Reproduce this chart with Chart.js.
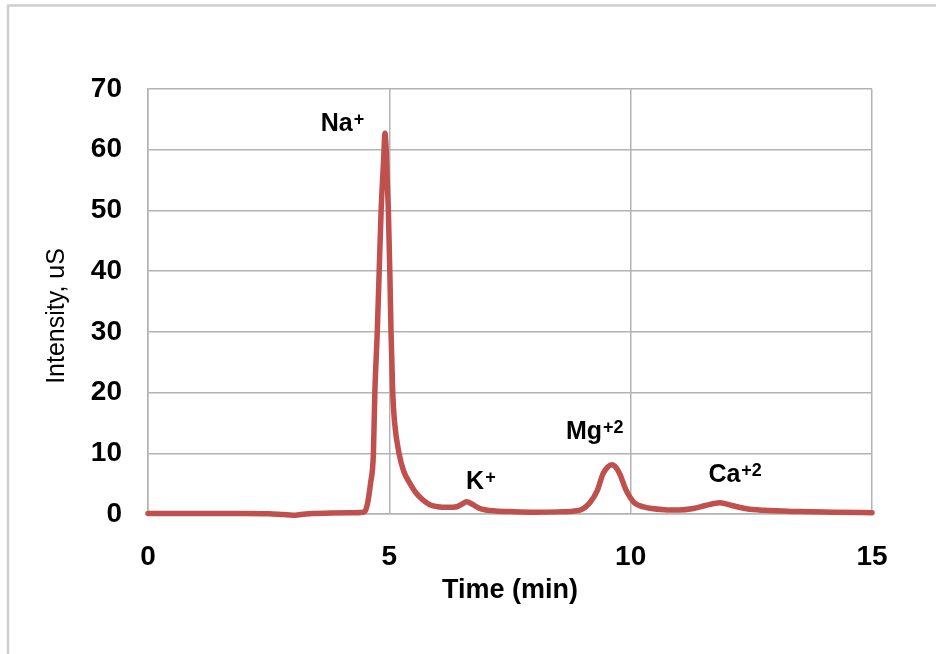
<!DOCTYPE html>
<html>
<head>
<meta charset="utf-8">
<script src="https://cdn.jsdelivr.net/npm/chart.js@4.4.1/dist/chart.umd.min.js"></script>
<style>
  html, body { margin: 0; padding: 0; background: #fff; }
</style>
</head>
<body>
<canvas id="graphicIons" width="936" height="654"></canvas>
<script>
const timeMin = [
  0.0, 0.5, 1.0, 1.5, 2.0, 2.5, 2.8, 3.0, 3.2, 3.4, 3.8, 4.2, 4.45, 4.5,
  4.55, 4.61, 4.67, 4.70, 4.75, 4.79, 4.83, 4.88, 4.91, 4.935, 4.98, 5.01,
  5.035, 5.07, 5.11, 5.2, 5.3, 5.43, 5.55, 5.7, 5.85, 6.0, 6.2, 6.4, 6.5,
  6.6, 6.72, 6.85, 7.0, 7.2, 7.5, 8.0, 8.5, 8.8, 9.0, 9.15, 9.31, 9.43,
  9.53, 9.61, 9.7, 9.78, 9.9, 10.0, 10.09, 10.25, 10.4, 10.7, 11.0, 11.3,
  11.55, 11.85, 12.1, 12.4, 12.75, 13.5, 14.2, 15.0
];
const intensityUs = [
  0.1, 0.1, 0.1, 0.1, 0.1, 0.05, -0.1, -0.2, -0.05, 0.1, 0.15, 0.2, 0.3, 0.5,
  1.8, 5.0, 10.0, 20.0, 30.0, 40.0, 50.0, 58.0, 62.7, 60.0, 50.0, 40.0,
  30.0, 20.0, 15.0, 10.0, 7.0, 5.0, 3.5, 2.3, 1.5, 1.2, 1.1, 1.2, 1.6,
  2.0, 1.6, 1.0, 0.66, 0.5, 0.4, 0.3, 0.35, 0.45, 0.8, 1.8, 3.9, 6.7,
  7.8, 8.1, 7.6, 6.5, 4.0, 2.6, 1.75, 1.2, 0.95, 0.7, 0.65, 0.9,
  1.4, 1.85, 1.4, 0.85, 0.6, 0.4, 0.3, 0.2
];
const xTicks = [0, 5, 10, 15];
const yTicks = [0, 10, 20, 30, 40, 50, 60, 70];

// etiquetas de los picos
const ionNames = ["Na", "K", "Mg", "Ca"];
const ionCharges = ["+", "+", "+2", "+2"];
const ionLabelX = [3.58, 6.59, 8.66, 11.61];
const ionLabelY = [63.1, 4.2, 12.3, 5.2];

const FONT = "'Liberation Sans', Arial, sans-serif";
const GRID = "#b3b3b3";

const chartFrame = {
  id: "chartFrame",
  beforeDraw(chart) {
    const { ctx, width, height } = chart;
    ctx.save();
    ctx.fillStyle = "#fff";
    ctx.fillRect(0, 0, width, height);
    ctx.strokeStyle = "#cfcfcf";
    ctx.lineWidth = 2.5;
    ctx.beginPath();
    ctx.moveTo(8, height);
    ctx.lineTo(8, 5.5);
    ctx.lineTo(width, 5.5);
    ctx.stroke();
    ctx.restore();
  },
};

// titulo del eje Y y etiquetas de los iones
const ionLabels = {
  id: "ionLabels",
  afterDatasetsDraw(chart) {
    const { ctx } = chart;
    const { x, y } = chart.scales;
    ctx.save();
    ctx.fillStyle = "#000";
    ctx.textBaseline = "alphabetic";
    ctx.textAlign = "left";
    ionNames.forEach((name, i) => {
      const px = x.getPixelForValue(ionLabelX[i]);
      const py = y.getPixelForValue(ionLabelY[i]);
      ctx.font = "bold 25px " + FONT;
      ctx.fillText(name, px, py);
      const w = ctx.measureText(name).width;
      ctx.font = "bold 18px " + FONT;
      ctx.fillText(ionCharges[i], px + w + 1, py - 6);
    });
    ctx.restore();

    ctx.save();
    ctx.translate(57, 316);
    ctx.rotate(-Math.PI / 2);
    ctx.font = "25px " + FONT;
    ctx.fillStyle = "#000";
    ctx.textAlign = "center";
    ctx.textBaseline = "middle";
    ctx.fillText("Intensity, uS", 0, 0);
    ctx.restore();
  },
};

const points = timeMin.map((t, i) => ({ x: t, y: intensityUs[i] }));

const chrt = document.getElementById("graphicIons").getContext("2d");
new Chart(chrt, {
  type: "scatter",
  data: {
    datasets: [
      {
        label: "Intensity",
        data: points,
        showLine: true,
        borderColor: "#c0504d",
        backgroundColor: "#c0504d",
        borderWidth: 5.5,
        borderCapStyle: "round",
        borderJoinStyle: "round",
        cubicInterpolationMode: "monotone",
        pointRadius: 0,
        clip: 8,
      },
    ],
  },
  options: {
    responsive: false,
    animation: false,
    devicePixelRatio: 1,
    layout: {
      padding: { top: 89, right: 64, left: 0, bottom: 0 },
    },
    plugins: {
      legend: { display: false },
      tooltip: { enabled: false },
    },
    scales: {
      x: {
        type: "linear",
        min: 0,
        max: 15,
        afterBuildTicks: (s) => {
          s.ticks = xTicks.map((v) => ({ value: v }));
        },
        afterFit: (s) => {
          s.height = 140;
        },
        grid: { color: GRID, lineWidth: 1.5, drawTicks: false },
        border: { display: true, color: GRID, width: 1.5 },
        ticks: {
          color: "#000",
          padding: 26,
          font: { family: FONT, size: 28, weight: "bold" },
        },
        title: {
          display: true,
          text: "Time (min)",
          color: "#000",
          font: { family: FONT, size: 27, weight: "bold" },
          padding: { top: 0, bottom: 47 },
        },
      },
      y: {
        type: "linear",
        min: 0,
        max: 70,
        afterBuildTicks: (s) => {
          s.ticks = yTicks.map((v) => ({ value: v }));
        },
        afterFit: (s) => {
          s.width = 148;
        },
        grid: { color: GRID, lineWidth: 1.5, drawTicks: false },
        border: { display: true, color: GRID, width: 1.5 },
        ticks: {
          color: "#000",
          padding: 26,
          font: { family: FONT, size: 28, weight: "bold" },
        },
        title: { display: false },
      },
    },
  },
  plugins: [chartFrame, ionLabels],
});
</script>
</body>
</html>
